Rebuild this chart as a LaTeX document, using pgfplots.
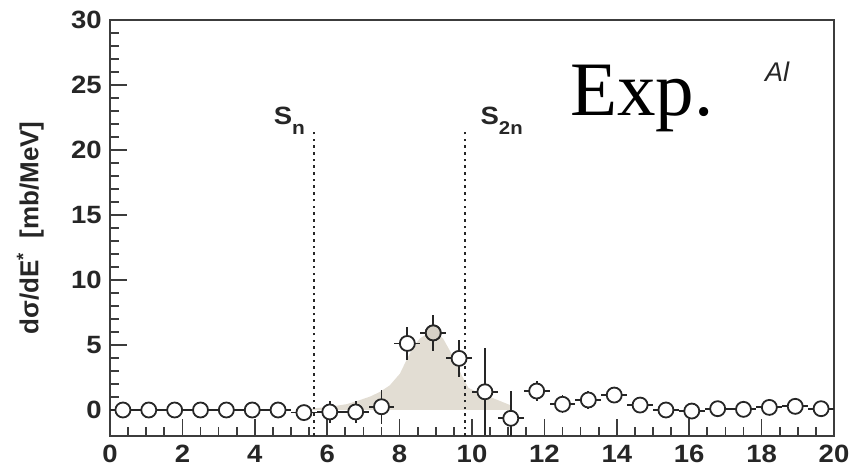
\documentclass[border=0pt]{standalone}
\usepackage{pgfplots}
\pgfplotsset{compat=1.18}
\usepackage{pgfplotstable}
\usepackage{fontspec}
\setmainfont{Liberation Sans}
\newfontfamily\timesfont{Liberation Serif}

\definecolor{fillc}{HTML}{E2DDD3}
\definecolor{peakc}{HTML}{D6D1C7}
\definecolor{ink}{HTML}{262626}
\definecolor{axisc}{HTML}{3C3C3C}

% Differential cross section, bins of 20/28 MeV
\pgfplotstableread{
x       y      ex     ey
0.357   0.00   0.357  0.30
1.071   0.00   0.357  0.30
1.786   0.00   0.357  0.30
2.500   0.00   0.357  0.30
3.214   0.00   0.357  0.30
3.929   0.00   0.357  0.30
4.643   0.00   0.357  0.30
5.357  -0.20   0.357  0.40
6.071  -0.15   0.357  0.83
6.786  -0.15   0.357  0.83
7.500   0.25   0.357  1.30
8.214   5.12   0.357  1.30
8.929   5.93   0.357  1.37
9.643   3.97   0.357  1.43
10.357  1.40   0.357  3.35
11.071 -0.64   0.357  2.10
11.786  1.46   0.357  0.75
12.500  0.44   0.357  0.68
13.214  0.77   0.357  0.68
13.929  1.15   0.357  0.40
14.643  0.38   0.357  0.30
15.357  0.00   0.357  0.30
16.071 -0.08   0.357  0.30
16.786  0.10   0.357  0.30
17.500  0.05   0.357  0.30
18.214  0.20   0.357  0.30
18.929  0.28   0.357  0.30
19.643  0.10   0.357  0.30
}\expdata

% Shaded resonance shape
\pgfplotstableread{
x      y
5.50   0.00
5.60   0.12
6.08   0.25
6.54   0.45
6.91   0.77
7.20   1.05
7.46   1.40
7.73   1.90
8.01   2.80
8.19   3.84
8.38   4.86
8.56   5.50
8.84   6.00
9.02   5.90
9.20   5.50
9.48   4.10
9.71   2.70
9.90   1.70
10.13  1.40
10.59  0.90
11.05  0.38
11.10  0.00
}\shape

\begin{document}
\begin{tikzpicture}
\begin{axis}[
  at={(0,0)}, anchor=south west,
  scale only axis, width=724pt, height=416pt,
  xmin=0, xmax=20, ymin=-2, ymax=30,
  xtick={0,2,...,20}, ytick={0,5,...,30},
  minor x tick num=3, minor y tick num=4,
  tick align=inside, xtick pos=bottom, ytick pos=left,
  major tick length=17pt, minor tick length=9pt,
  axis line style={line width=1.8pt, draw=axisc},
  tick style={line width=1.7pt, draw=axisc},
  /pgf/number format/assume math mode=true,
  tick label style={font=\fontsize{25}{26}\selectfont\bfseries, text=ink, xscale=1.1},
  xticklabel style={yshift=-6pt},
  yticklabel style={xshift=-4pt},
  ylabel={dσ/dE\textsuperscript{*}\ \ [mb/MeV]},
  ylabel style={font=\fontsize{26}{28}\selectfont\bfseries, text=ink,
    at={(axis description cs:-0.11,0.5)}, anchor=center},
]
\addplot[fill=fillc, draw=none] table[x=x, y=y] {\shape} \closedcycle;

\addplot[ink, line width=1.8pt, dash pattern=on 2.6pt off 4.1pt]
  coordinates {(5.64,-2) (5.64,21.7)};
\addplot[ink, line width=1.8pt, dash pattern=on 2.6pt off 4.1pt]
  coordinates {(9.81,-2) (9.81,21.7)};

% error bars first, open circles on top of them
\addplot[draw=none, mark=none,
  error bars/.cd, x dir=both, x explicit, y dir=both, y explicit,
  error mark=none, error bar style={line width=1.8pt, draw=ink, solid}]
  table[x=x, y=y, x error=ex, y error=ey] {\expdata};

\addplot[only marks, mark=*, mark size=7.5pt,
  mark options={draw=ink, fill=white, line width=1.8pt}]
  table[x=x, y=y] {\expdata};

\addplot[only marks, mark=*, mark size=7.5pt,
  mark options={draw=ink, fill=peakc, line width=1.8pt}]
  coordinates {(8.929,5.93)};

\node[anchor=base west, font=\fontsize{25}{26}\selectfont\bfseries, text=ink, xscale=1.1]
  at (axis cs:4.42,21.95) {S\raisebox{-9.5pt}{\fontsize{19}{19}\selectfont n}};
\node[anchor=base west, font=\fontsize{25}{26}\selectfont\bfseries, text=ink, xscale=1.1]
  at (axis cs:10.13,21.95) {S\raisebox{-9.5pt}{\fontsize{18.5}{19}\selectfont 2n}};
\node[anchor=base west, font=\fontsize{27}{28}\selectfont\itshape, text=ink]
  at (axis cs:18.0,25.25) {Al};
\node[anchor=base west, font=\fontsize{77}{80}\timesfont, text=black]
  at (axis cs:12.62,22.64) {Exp.};
\end{axis}
\pgfresetboundingbox
\path[use as bounding box] (-110pt,-34pt) rectangle (740pt,436pt);
\end{tikzpicture}
\end{document}
